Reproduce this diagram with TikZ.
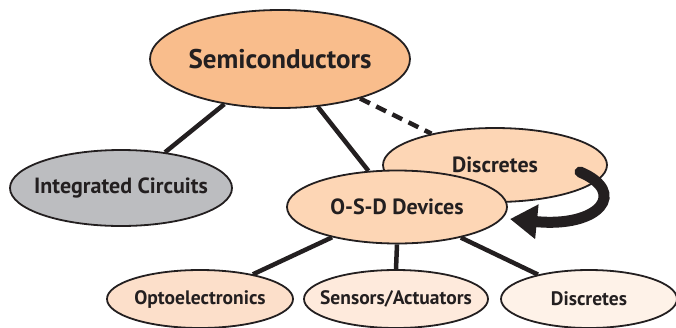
\documentclass[tikz,border=0pt]{standalone}
\usepackage{fontspec}
\setmainfont{PT Sans}
\usetikzlibrary{shapes.geometric,arrows.meta}
\definecolor{ink}{HTML}{231F20}
\definecolor{semifill}{HTML}{F9BD8C}
\definecolor{midfill}{HTML}{FDD6B5}
\definecolor{icfill}{HTML}{BCBDC0}
\definecolor{optofill}{HTML}{FCDFCA}
\definecolor{sensfill}{HTML}{FEEADC}
\definecolor{discfill}{HTML}{FEF2E8}
\tikzset{
  % the ellipse keeps its given size; its caption is set as a centred label
  blob/.style={ellipse, draw=ink, line width=1.8pt, inner sep=0pt},
  caption/.style={text=ink, inner sep=0pt},
  bigtext/.style={font=\bfseries\fontsize{27}{30}\selectfont},
  midtext/.style={font=\bfseries\fontsize{22}{25}\selectfont},
  smalltext/.style={font=\bfseries\fontsize{19.5}{22}\selectfont},
  link/.style={draw=ink, line width=4.5pt},
}
\begin{document}
\begin{tikzpicture}[x=1pt,y=-1pt]
\useasboundingbox (0,0) rectangle (676,327);
% top level
\node[blob, fill=semifill, minimum width=260pt, minimum height=98pt,
  label={[caption, bigtext]center:Semiconductors}] (semi) at (280,59) {};
\node[blob, fill=icfill, minimum width=222pt, minimum height=76pt,
  label={[caption, midtext]center:Integrated Circuits}] (ic) at (121,188) {};
\node[blob, fill=midfill, minimum width=224pt, minimum height=74pt,
  label={[caption, midtext]center:Discretes}] (disc) at (495,165) {};
\node[blob, fill=midfill, minimum width=220pt, minimum height=73pt,
  label={[caption, midtext]center:O-S-D Devices}] (osd) at (397,207) {};
% bottom level
\node[blob, fill=optofill, minimum width=186pt, minimum height=58pt,
  label={[caption, smalltext]center:Optoelectronics}] (opto) at (200,299) {};
\node[blob, fill=sensfill, minimum width=184pt, minimum height=58pt,
  label={[caption, smalltext]center:Sensors/Actuators}] (sens) at (396,299) {};
\node[blob, fill=discfill, minimum width=176pt, minimum height=58pt,
  label={[caption, smalltext]center:Discretes}] (discb) at (589,299) {};
% connectors
\draw[link] (semi) -- (ic);
\draw[link] (semi) -- (osd);
\draw[link, dash pattern=on 11pt off 7pt] (semi) -- (disc);
\draw[link] (osd) -- (opto);
\draw[link] (osd.south) -- (sens.north);
\draw[link] (osd) -- (discb);
% curved arrow from the upper Discretes back to O-S-D Devices
\coordinate (cstart) at (580,172);
\coordinate (cend) at (510,219);
\draw[draw=ink, line width=11pt, line cap=round, -{Triangle[length=27pt,width=33pt]}]
  (cstart) .. controls (628,192) and (600,228) .. (cend);
\end{tikzpicture}
\end{document}
